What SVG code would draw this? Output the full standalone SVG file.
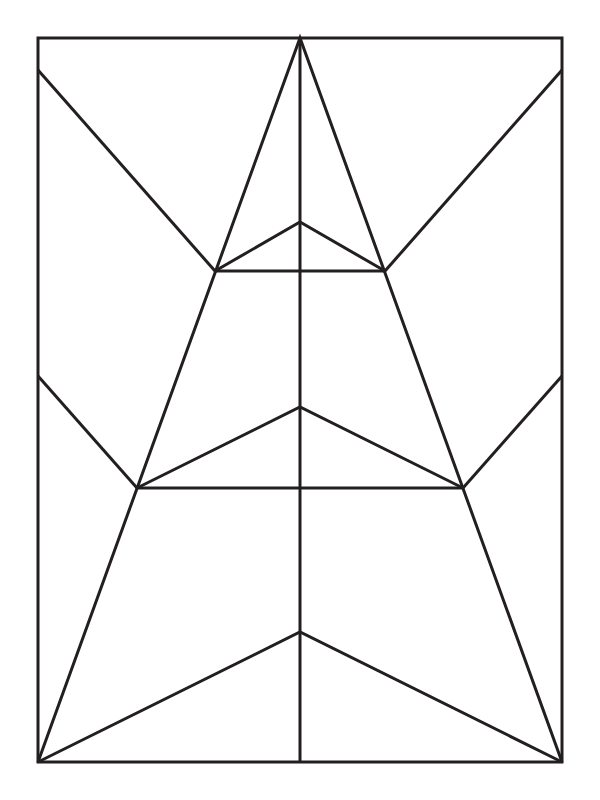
<svg xmlns="http://www.w3.org/2000/svg" width="600" height="800" viewBox="0 0 600 800">
<style>.l{fill:none;stroke:#231f20;stroke-width:3;stroke-linejoin:miter;stroke-linecap:butt}</style>
<rect width="600" height="800" fill="#fff"/>
<g id="lines" class="l">
<rect x="38" y="38" width="524" height="724"/>
<line x1="300" y1="38" x2="300" y2="762"/>
<polyline points="38,762 300,38 562,762"/>
<line x1="38" y1="70" x2="215" y2="271"/>
<line x1="562" y1="70" x2="385" y2="271"/>
<line x1="38" y1="376" x2="137" y2="488"/>
<line x1="562" y1="376" x2="463" y2="488"/>
<line x1="215" y1="271" x2="385" y2="271"/>
<line x1="137" y1="488" x2="463" y2="488"/>
<polyline points="215,271 300,222 385,271"/>
<polyline points="137,488 300,407 463,488"/>
<polyline points="38,762 300,632 562,762"/>
</g>
</svg>
